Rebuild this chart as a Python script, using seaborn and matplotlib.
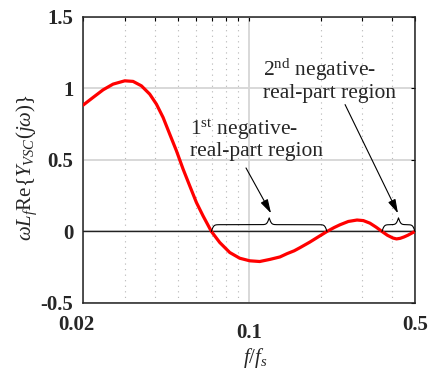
import numpy as np
import pandas as pd
import matplotlib
matplotlib.use("Agg")
import matplotlib.pyplot as plt
import seaborn as sns
from matplotlib.ticker import NullFormatter
from matplotlib.transforms import ScaledTranslation

# curve (f/fs vs omega*Lf*Re{Yvsc})
freq = [0.02, 0.02204, 0.02428, 0.02675, 0.02996, 0.03247, 0.03521, 0.03817, 0.04073, 0.04345,
        0.04635, 0.04945, 0.05275, 0.05626, 0.06001, 0.06402, 0.06942, 0.07526, 0.08294, 0.09136,
        0.10067, 0.11091, 0.1226, 0.135, 0.1446, 0.155, 0.164, 0.18, 0.196, 0.213,
        0.228, 0.2417, 0.262, 0.285, 0.303, 0.323, 0.343, 0.363, 0.383, 0.404,
        0.418, 0.433, 0.45, 0.467, 0.484, 0.5]
re_y = [0.883, 0.937, 0.99, 1.03, 1.053, 1.049, 1.018, 0.96, 0.89, 0.797,
        0.68, 0.564, 0.436, 0.319, 0.203, 0.109, 0.0, -0.077, -0.147, -0.187,
        -0.205, -0.21, -0.195, -0.178, -0.155, -0.135, -0.113, -0.075, -0.037, 0.0,
        0.027, 0.047, 0.07, 0.08, 0.076, 0.058, 0.03, 0.0, -0.027, -0.046,
        -0.052, -0.048, -0.038, -0.026, -0.012, 0.0]

# negative-real-part regions (zero crossings)
region_lo = [0.0694, 0.363]
region_hi = [0.213, 0.5]
region_text = [r'1$^{\mathrm{st}}$ negative-' + '\n' + 'real-part region',
               r'2$^{\mathrm{nd}}$ negative-' + '\n' + 'real-part region']

xticks = [0.02, 0.1, 0.5]
xtick_labels = ['0.02', '0.1', '0.5']
xminor = [0.03, 0.04, 0.05, 0.06, 0.07, 0.08, 0.09, 0.2, 0.3, 0.4]
yticks = [-0.5, 0, 0.5, 1, 1.5]
ytick_labels = ['-0.5', '0', '0.5', '1', '1.5']

df = pd.DataFrame({'f': freq, 'y': re_y})

sns.set_theme(style='white')
plt.rcParams['font.family'] = ['Liberation Serif', 'DejaVu Serif']
plt.rcParams['mathtext.fontset'] = 'custom'
plt.rcParams['mathtext.rm'] = 'Liberation Serif'
plt.rcParams['mathtext.it'] = 'Liberation Serif:italic'
plt.rcParams['mathtext.bf'] = 'Liberation Serif:bold'
plt.rcParams['axes.unicode_minus'] = False


def brace(ax, f0, f1, base, height, beta=210):
    u = np.linspace(np.log10(f0), np.log10(f1), 301)
    half = u[:151]
    yh = 1 / (1 + np.exp(-beta * (half - half[0]))) + 1 / (1 + np.exp(-beta * (half - half[-1])))
    yy = np.concatenate([yh, yh[-2::-1]]) - 0.5
    ax.plot(10 ** u, base + height * yy, color='black', lw=0.8, zorder=4)


fig, ax = plt.subplots(figsize=(4.35, 3.75), dpi=100)
fig.subplots_adjust(left=0.191, right=0.954, bottom=0.192, top=0.955)

ax.axhline(0, color='#222222', lw=1.0, zorder=2)
sns.lineplot(data=df, x='f', y='y', color='red', lw=2.3, ax=ax, zorder=3, sort=False,
             solid_joinstyle='round', solid_capstyle='round')

ax.set_xscale('log')
ax.set_xlim(0.02, 0.5)
ax.set_ylim(-0.5, 1.5)
ax.set_xticks(xticks, labels=xtick_labels)
ax.set_xticks(xminor, minor=True)
ax.xaxis.set_minor_formatter(NullFormatter())
ax.set_yticks(yticks, labels=ytick_labels)

ax.yaxis.grid(True, color='#d6d6d6', lw=1.3)
ax.xaxis.grid(True, which='major', color='#d6d6d6', lw=1.3)
ax.xaxis.grid(True, which='minor', color='#b5b5b5', lw=0.8, ls=(0, (1, 4)))
ax.set_axisbelow(True)

ax.tick_params(which='both', direction='in', top=True, right=True, length=3, width=0.8, color='black')
ax.tick_params(axis='y', labelsize=15, pad=7)
ax.tick_params(axis='x', labelsize=15, pad=9)
for lab in ax.get_xticklabels() + ax.get_yticklabels():
    lab.set_fontweight('bold')
for spine in ax.spines.values():
    spine.set_color('#222222')
    spine.set_linewidth(1.1)

# the reference has its x tick labels slightly staggered
xl = ax.get_xticklabels()
xl[0].set_transform(xl[0].get_transform() + ScaledTranslation(-7 / 100, 0, fig.dpi_scale_trans))
xl[1].set_transform(xl[1].get_transform() + ScaledTranslation(0, -8 / 100, fig.dpi_scale_trans))

ax.set_xlabel(r'$f/f_s$', fontsize=15)
ax.set_ylabel(r'$\omega L_f\mathrm{Re}\{Y_{VSC}(j\omega)\}$', fontsize=15)
ax.xaxis.set_label_coords(0.518, -0.15)
ax.yaxis.set_label_coords(-0.133, 0.472)

# braces over the two regions + annotation arrows
for lo, hi in zip(region_lo, region_hi):
    brace(ax, lo, hi, 0.0, 0.095)

ax.annotate('', xy=(0.1238, 0.127), xytext=(0.0971, 0.444),
            arrowprops=dict(arrowstyle='-|>,head_length=0.7,head_width=0.2', color='black',
                            lw=0.8, shrinkA=0, shrinkB=0))
ax.annotate('', xy=(0.424, 0.127), xytext=(0.2538, 0.887),
            arrowprops=dict(arrowstyle='-|>,head_length=0.7,head_width=0.2', color='black',
                            lw=0.8, shrinkA=0, shrinkB=0))
ax.text(0.0564, 0.80, region_text[0], fontsize=15.5, ha='left', va='top', linespacing=1.05)
ax.text(0.1145, 1.22, region_text[1], fontsize=15.5, ha='left', va='top', linespacing=1.05)

fig.savefig('out.png', dpi=100)
